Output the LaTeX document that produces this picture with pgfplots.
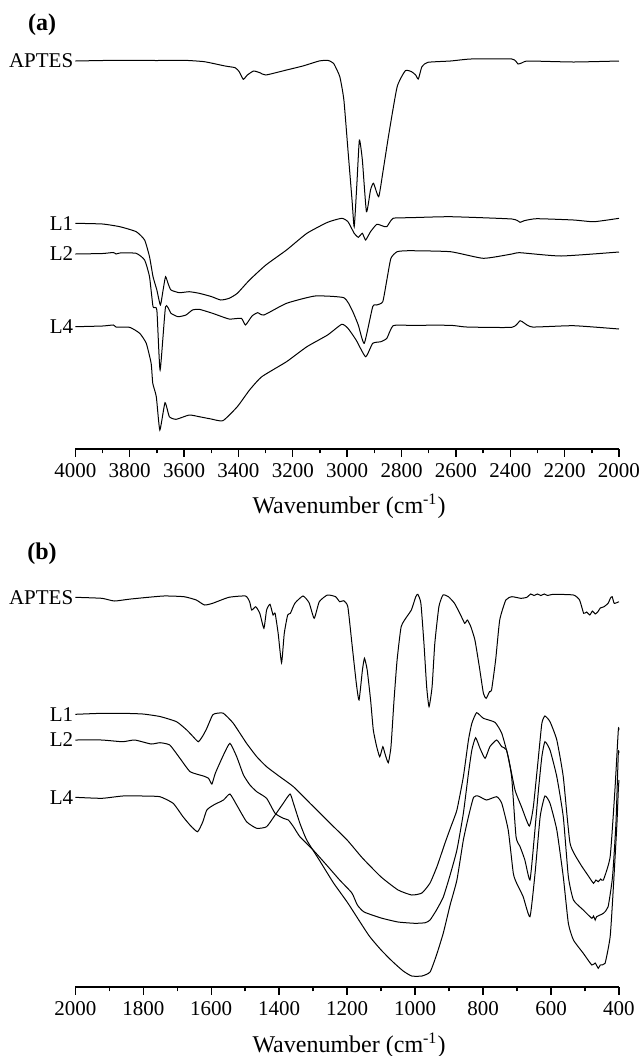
\documentclass[border=0pt]{standalone}
\usepackage{fontspec}
\setmainfont{Liberation Serif}
\usepackage{pgfplots}
\pgfplotsset{compat=1.18}
\pgfplotsset{ftir/.style={
  scale only axis, width=271.85pt,
  axis x line*=bottom, axis y line=none,
  x dir=reverse,
  tick align=outside,
  major tick length=3.8pt, minor tick length=2.2pt,
  minor x tick num=1,
  axis line style={line width=0.8pt},
  every tick/.style={black, line width=0.7pt},
  xticklabel style={font=\fontsize{10.5}{12}\selectfont},
  /pgf/number format/assume math mode=true,
  /pgf/number format/1000 sep={},
  clip=false,
}, sp/.style={black, no marks, line width=0.5pt, smooth, tension=0.3}}
\begin{document}
\begin{tikzpicture}
\path[use as bounding box] (0,0) rectangle (321pt,-528pt);
% ---------------- panel (a)
\begin{axis}[ftir, at={(37.65pt,-224.5pt)}, anchor=south west,
  height=204.5pt, xmin=2000, xmax=4000, ymin=-449, ymax=-40,
  xtick={2000,2200,...,4000}]
\addplot[sp] table {
4000 -61.0
3900 -60.5
3827 -60.3
3700 -60.5
3600 -60.3
3525 -61.7
3449 -66
3412 -67.7
3397 -71.7
3382 -79.3
3367 -75
3344 -71
3321 -72.7
3299 -75
3223 -70
3163 -66
3103 -61
3072 -60.3
3050 -63.3
3027 -76.7
3012 -100
2997 -150
2982 -200
2974 -226.7
2964 -183
2955 -140
2944 -160
2929 -211.7
2914 -190
2903 -183.3
2884 -196.7
2869 -173
2846 -133
2816 -86.7
2786 -70.7
2763 -71.7
2748 -75
2738 -79
2725 -66.7
2703 -62.3
2620 -61
2545 -59
2394 -59
2371 -64
2356 -62.7
2333 -61
2167 -62
2000 -61
};
\addplot[sp] table {
4000 -223.3
3900 -224
3836 -226.7
3776 -231.7
3745 -240
3727 -256.7
3714 -276.7
3700 -290
3687 -305
3677 -290
3668 -276.7
3658 -284
3648 -290
3617 -292.7
3581 -291.7
3544 -293.3
3500 -296.5
3465 -300
3434 -298.3
3404 -293.3
3359 -280
3299 -265
3223 -250
3148 -233.3
3072 -222.3
3020 -218.3
2997 -221.7
2974 -233.3
2959 -237.3
2944 -233.3
2932 -240
2914 -231.7
2891 -224.3
2869 -226
2854 -226.7
2831 -218.3
2771 -217.7
2620 -216.7
2394 -219
2364 -222.3
2349 -220.7
2303 -218.7
2167 -220
2092 -221.7
2000 -218.3
};
\addplot[sp] table {
4000 -254
3900 -253.5
3860 -252.5
3850 -254
3836 -253
3776 -253.3
3745 -260
3727 -276.7
3714 -306.7
3700 -310
3688 -370
3668 -306.7
3648 -313.3
3622 -316.7
3593 -315
3569 -310
3544 -309.3
3495 -313.3
3434 -319
3389 -318.3
3374 -325
3350 -316
3329 -312.7
3306 -315
3223 -303.3
3118 -296
3012 -297.7
2982 -310
2959 -325
2937 -343.3
2906 -306.7
2891 -305
2869 -301.7
2854 -280
2839 -258.3
2816 -251.7
2771 -250.7
2620 -251.7
2499 -258.3
2394 -254
2364 -252.7
2213 -256
2000 -252
};
\addplot[sp] table {
4000 -326.7
3900 -326
3860 -325
3850 -327
3800 -327.3
3763 -333.3
3739 -343.3
3721 -363.3
3715 -383.3
3702 -396.7
3689 -430
3670 -402.7
3654 -416.7
3629 -419.3
3581 -415
3544 -416.7
3500 -419
3457 -420.7
3404 -406.7
3359 -390
3314 -376.7
3223 -361.7
3148 -346.7
3072 -335
3020 -324.3
2997 -328.3
2967 -340
2932 -356.7
2906 -343.3
2876 -341.7
2854 -338.3
2831 -325.7
2771 -325.3
2620 -325.3
2560 -327
2394 -327.3
2364 -320.7
2349 -323
2318 -327
2167 -325.7
2000 -329
};
\end{axis}
% ---------------- panel (b)
\begin{axis}[ftir, at={(37.65pt,-493.5pt)}, anchor=south west,
  height=203.5pt, xmin=400, xmax=2000, ymin=-987, ymax=-580,
  xtick={400,600,...,2000}]
\addplot[sp] table {
2000 -597.3
1922 -598.3
1885 -601
1837 -599
1741 -596
1680 -596.7
1644 -600
1620 -605
1596 -603.3
1548 -597.3
1499 -596
1487 -601.7
1481 -610
1469 -606.7
1457 -613.3
1445 -628.3
1437 -610
1427 -604.3
1418 -615
1412 -613.3
1403 -633.3
1393 -662.7
1385 -633.3
1375 -615
1367 -613.3
1354 -603.3
1330 -596
1312 -602.7
1297 -618.3
1282 -601.7
1258 -595
1234 -596.7
1222 -601.7
1210 -600.7
1198 -606.7
1186 -643.3
1173 -683.3
1165 -700
1155 -670
1149 -658.3
1141 -670
1131 -700
1123 -730
1113 -746.7
1104 -756.7
1095 -746.7
1089 -753.3
1079 -762.7
1071 -746.7
1062 -700
1053 -660
1041 -626.7
1023 -616
1011 -610
998 -596.7
992 -594.3
983 -603.3
974 -643.3
966 -686.7
959 -706.7
950 -686.7
942 -643.3
930 -606.7
918 -595
902 -596.7
884 -603.3
866 -615
854 -623.3
846 -620
836 -626.7
824 -640
811 -666.7
799 -693.3
791 -698.3
781 -691.7
775 -690
763 -660
751 -620
733 -600
715 -596.7
689 -598.3
671 -597.3
660 -594
650 -595.5
640 -594
630 -595.5
620 -594
610 -595.5
594 -594.3
534 -595
516 -600
504 -613.3
495 -612
486 -615
478 -611
470 -614
462 -611.7
455 -608
444 -606.7
432 -603.3
425 -598
420 -596.7
414 -603.3
400 -601.7
};
\addplot[sp] table {
2000 -714.3
1922 -713.3
1861 -713.3
1801 -714
1751 -716.5
1702 -721.7
1672 -730
1655 -736
1638 -741.7
1625 -736
1613 -728.3
1596 -715
1584 -713.3
1564 -713.3
1535 -723.3
1496 -743.3
1466 -756.7
1437 -766.7
1398 -776.7
1358 -786.7
1309 -803.3
1250 -823.3
1200 -840
1155 -858
1100 -877
1050 -890
1010 -895
980 -893
956 -883
935 -866
912 -843
895 -827
877 -810
858 -776.7
843 -740
833 -723.3
819 -712.7
799 -718.3
765 -722.3
745 -733.3
726 -756.7
706 -790
687 -806.7
664 -826
652 -806.7
637 -756.7
627 -723.3
618 -716
603 -721.7
583 -740
564 -776.7
544 -843.3
515 -863.3
490 -876
475 -883.3
468 -880
461 -881.7
454 -879
446 -880
426 -856.7
412 -790
402 -730
400 -730
};
\addplot[sp] table {
2000 -740
1922 -740
1861 -741.7
1825 -740
1777 -744
1751 -742.7
1722 -745
1692 -758.3
1662 -771.7
1623 -776
1608 -778.3
1598 -784
1588 -773.3
1564 -755
1545 -743.3
1525 -756.7
1505 -775
1486 -785
1466 -791.7
1437 -798.3
1412 -813.3
1388 -818.3
1373 -820
1358 -826.7
1339 -836.7
1300 -850
1258 -866
1222 -880
1186 -893
1170 -905
1150 -912
1100 -918
1050 -922
1000 -923.3
970 -922.7
956 -920
937 -910
917 -897
897 -875
877 -850
858 -813.3
843 -773.3
833 -750
822 -737.7
809 -748.3
794 -758.3
780 -746.7
760 -740
745 -746.7
731 -750
716 -776.7
703 -836.7
691 -846.7
677 -860
662 -880
650 -840
637 -790
627 -756.7
618 -741.7
603 -750
583 -776.7
564 -816.7
549 -876.7
534 -900
505 -910
480 -918.3
475 -916
470 -920
466 -916.7
446 -913.3
432 -906.7
419 -876.7
409 -823.3
402 -753.3
400 -753
};
\addplot[sp] table {
2000 -797.3
1922 -798.3
1861 -796
1801 -796
1751 -796.7
1712 -803.3
1683 -816.7
1660 -826
1640 -831.7
1625 -822
1613 -810
1593 -805
1564 -800
1545 -794
1525 -805
1496 -821.7
1466 -828.3
1437 -826.7
1412 -815
1388 -803.3
1368 -794
1358 -803.3
1339 -823.3
1319 -840
1282 -860
1240 -883
1198 -903
1137 -935
1100 -950
1065 -962
1035 -971
1010 -976
980 -976
956 -972
937 -955
917 -933
897 -905
877 -880
858 -840
843 -816.7
828 -797.3
814 -796
790 -800
760 -796.7
745 -803.3
726 -830
711 -873.3
701 -883.3
682 -896.7
662 -916.7
647 -873.3
632 -816.7
618 -796
603 -803.3
583 -830
564 -876.7
549 -923.3
534 -940
505 -953.3
480 -965
470 -963
461 -968.3
455 -965
441 -963.3
426 -936.7
417 -890
406 -823.3
402 -790
400 -780
};
\end{axis}
% ---------------- labels
\begin{scope}[every node/.style={inner sep=0pt, font=\fontsize{10.5}{12}\selectfont}]
\node[anchor=east] at (36.8pt,-30.5pt) {APTES};
\node[anchor=east] at (36.8pt,-111.7pt) {L1};
\node[anchor=east] at (36.8pt,-127pt) {L2};
\node[anchor=east] at (36.8pt,-163.3pt) {L4};
\node[anchor=east] at (36.8pt,-298.6pt) {APTES};
\node[anchor=east] at (36.8pt,-357.1pt) {L1};
\node[anchor=east] at (36.8pt,-370pt) {L2};
\node[anchor=east] at (36.8pt,-398.6pt) {L4};
\end{scope}
\node[inner sep=0pt, font=\fontsize{12}{14}\selectfont\bfseries] at (21pt,-12.5pt) {(a)};
\node[inner sep=0pt, font=\fontsize{12}{14}\selectfont\bfseries] at (21pt,-277pt) {(b)};
\node[inner sep=0pt, font=\fontsize{12}{14}\selectfont] at (174.5pt,-253pt) {Wavenumber (cm\textsuperscript{-1})};
\node[inner sep=0pt, font=\fontsize{12}{14}\selectfont] at (174.5pt,-522.5pt) {Wavenumber (cm\textsuperscript{-1})};
\end{tikzpicture}
\end{document}
